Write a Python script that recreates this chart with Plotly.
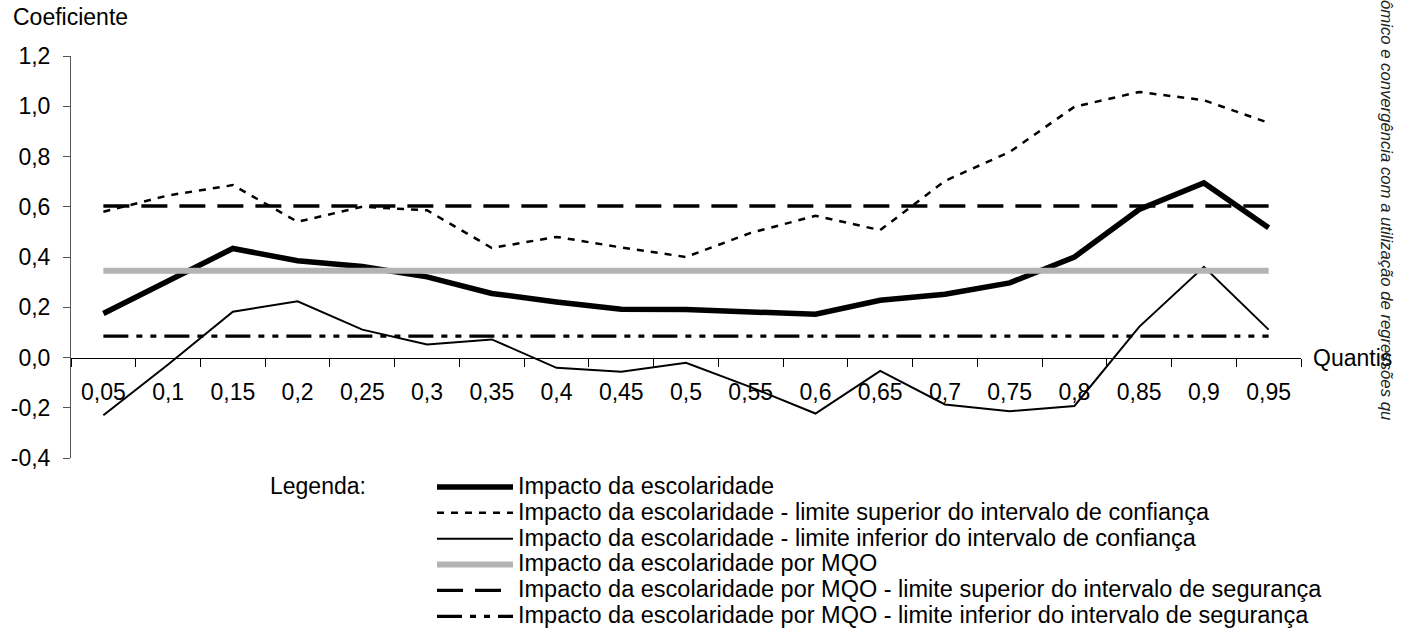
import plotly.graph_objects as go

# ---------------- data ----------------
quantis = ["0,05", "0,1", "0,15", "0,2", "0,25", "0,3", "0,35", "0,4", "0,45", "0,5",
           "0,55", "0,6", "0,65", "0,7", "0,75", "0,8", "0,85", "0,9", "0,95"]

impacto = [0.175, 0.305, 0.434, 0.385, 0.362, 0.321, 0.255, 0.221, 0.192, 0.191,
           0.182, 0.172, 0.228, 0.252, 0.297, 0.400, 0.589, 0.695, 0.516]

limite_superior = [0.580, 0.645, 0.686, 0.540, 0.600, 0.586, 0.436, 0.480, 0.438, 0.400,
                   0.496, 0.564, 0.507, 0.703, 0.818, 0.998, 1.057, 1.024, 0.934]

limite_inferior = [-0.230, -0.028, 0.182, 0.224, 0.111, 0.052, 0.072, -0.041, -0.057, -0.021,
                   -0.118, -0.223, -0.053, -0.187, -0.214, -0.193, 0.122, 0.361, 0.111]

mqo_valor = 0.345
mqo_superior_valor = 0.603
mqo_inferior_valor = 0.085

mqo = [mqo_valor] * len(quantis)
mqo_superior = [mqo_superior_valor] * len(quantis)
mqo_inferior = [mqo_inferior_valor] * len(quantis)

y_tick_values = [-0.4, -0.2, 0.0, 0.2, 0.4, 0.6, 0.8, 1.0, 1.2]
y_tick_labels = ["-0,4", "-0,2", "0,0", "0,2", "0,4", "0,6", "0,8", "1,0", "1,2"]

nomes = [
    "Impacto da escolaridade",
    "Impacto da escolaridade - limite superior do intervalo de confiança",
    "Impacto da escolaridade - limite inferior do intervalo de confiança",
    "Impacto da escolaridade por MQO",
    "Impacto da escolaridade por MQO - limite superior do intervalo de segurança",
    "Impacto da escolaridade por MQO - limite inferior do intervalo de segurança",
]

# ---------------- layout geometry ----------------
W, H = 1401, 642
L, R, T, B = 71, 100, 56, 184
PW, PH = W - L - R, H - T - B
FONT = "Arial, Liberation Sans, sans-serif"
FS = 23


def px_x(px):
    return (px - L) / PW


def px_y(py):
    return (H - B - py) / PH


def leg(txt):
    return '<span style="font-size:23.5px">' + txt + '</span>'


styles = [
    dict(color="black", width=5.5),
    dict(color="black", width=2.5, dash="7px,7px"),
    dict(color="black", width=2),
    dict(color="#b3b3b3", width=6),
    dict(color="black", width=3.3, dash="26px,12px"),
    dict(color="black", width=3.3, dash="25px,8px,6px,8px,6px,8px"),
]
series = [impacto, limite_superior, limite_inferior, mqo, mqo_superior, mqo_inferior]

fig = go.Figure()
for nome, vals, st in zip(nomes, series, styles):
    fig.add_trace(go.Scatter(x=quantis, y=vals, mode="lines", name=leg(nome),
                             line=st, hoverinfo="skip"))

fig.update_layout(
    width=W, height=H,
    margin=dict(l=L, r=R, t=T, b=B, pad=0, autoexpand=False),
    paper_bgcolor="white", plot_bgcolor="white",
    font=dict(family=FONT, size=FS, color="black"),
    showlegend=True,
    legend=dict(
        xref="container", yref="container",
        x=432 / W, y=1 - 469 / H, xanchor="left", yanchor="top",
        font=dict(family=FONT, size=17.6, color="black"),
        itemwidth=76, bgcolor="rgba(0,0,0,0)", borderwidth=0,
        tracegroupgap=0, itemclick=False, itemdoubleclick=False,
    ),
    xaxis=dict(
        type="category", categoryorder="array", categoryarray=quantis,
        range=[-0.5, len(quantis) - 0.5],
        anchor="free", position=(0 - (-0.4)) / 1.6,
        showline=True, linecolor="black", linewidth=1,
        ticks="outside", tickson="boundaries", ticklen=8, tickcolor="black", tickwidth=1,
        showgrid=False, zeroline=False,
        tickfont=dict(family=FONT, size=FS, color="black"),
        ticklabelstandoff=14,
    ),
    yaxis=dict(
        range=[-0.4, 1.2],
        tickvals=y_tick_values, ticktext=y_tick_labels,
        showline=True, linecolor="#555555", linewidth=1,
        ticks="outside", ticklen=7, tickcolor="#555555", tickwidth=1,
        showgrid=False, zeroline=False,
        tickfont=dict(family=FONT, size=FS, color="black"),
        ticklabelstandoff=8,
    ),
    annotations=[
        dict(text="Coeficiente", xref="paper", yref="paper",
             x=px_x(11), y=px_y(17), xanchor="left", yanchor="middle",
             showarrow=False, font=dict(family=FONT, size=FS, color="black")),
        dict(text="Quantis", xref="paper", yref="y",
             x=px_x(1311), y=0, xanchor="left", yanchor="middle",
             showarrow=False, font=dict(family=FONT, size=FS, color="black")),
        dict(text="Legenda:", xref="paper", yref="paper",
             x=px_x(268), y=px_y(486), xanchor="left", yanchor="middle",
             showarrow=False, font=dict(family=FONT, size=FS, color="black")),
        dict(text="<i>ômico e convergência com a utilização de regressões qu</i>",
             xref="paper", yref="paper", textangle=90,
             x=px_x(1387), y=px_y(422), xanchor="center", yanchor="bottom",
             showarrow=False, font=dict(family=FONT, size=16.7, color="#222222")),
    ],
)

fig.write_html("out.html")
